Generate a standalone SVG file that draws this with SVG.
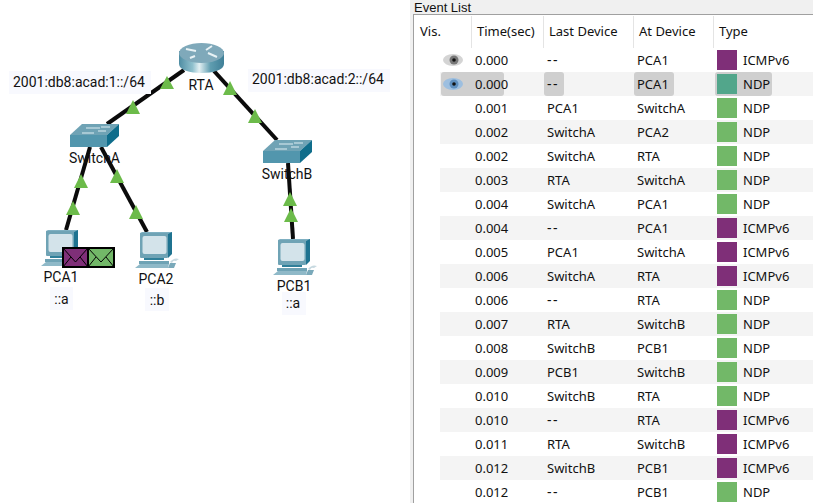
<svg xmlns="http://www.w3.org/2000/svg" xmlns:xlink="http://www.w3.org/1999/xlink" width="813" height="503" viewBox="0 0 813 503">
<style>
text{font-family:"Noto Sans","Liberation Sans",sans-serif;font-size:13px;fill:#111}
.lab{font-family:Roboto,"Liberation Sans",sans-serif;fill:#111;font-size:14px}
.ttl{font-family:"Liberation Sans",sans-serif}
.lbg{fill:#f8f9fe}
.wire{stroke:#0b0b0b;stroke-width:4;fill:none}
.tri{fill:#6cbb4a}
.st{fill:#f4f4f4}
.sel{fill:#cfcfcf}
.hd{stroke:#e4e4e4;stroke-width:1}
.env{stroke:#000;stroke-width:2}
.fl{stroke:#000;stroke-width:1;fill:none}
.dash{letter-spacing:1.500px;font-size:14px}
.p{fill:#7f2f78}.n{fill:#72b868}.s{fill:#52a68b}
</style>
<defs>
<linearGradient id="rg" x1="0" x2="1" y1="0" y2="0"><stop offset="0" stop-color="#4f8da3"/><stop offset=".3" stop-color="#8fc0cd"/><stop offset=".45" stop-color="#e3f0f3"/><stop offset=".7" stop-color="#5f9db0"/><stop offset="1" stop-color="#3f7f97"/></linearGradient>
<g id="pc">
<path d="M33 0H37V22L33 26Z" fill="#1f7390"/>
<path d="M5 1L7 0H37L33 2H5Z" fill="#7fb0c2"/>
<rect x="5" y="1" width="28" height="25" rx="1" fill="#6fa3b5"/>
<rect x="7.500" y="4" width="24" height="18" rx="2" fill="#d3e3ea"/>
<path d="M9 26H29V28H9Z" fill="#2f7f99"/>
<path d="M4 29H34V32H4Z" fill="#6fa3b5"/>
<path d="M0 36L5 32H34L33 36Z" fill="#8fb9c8"/>
<path d="M35 30Q39 25 44 27L41 29Q38 28 37 31Z" fill="#c7d9e0"/>
<path d="M35 31H41L39 36H33Z" fill="#7aa9ba"/>
</g>
<g id="sw">
<path d="M0 11L12 0H49L37 11Z" fill="#6fa3b5"/>
<path d="M37 11L49 0V12L37 23Z" fill="#0f6d8b"/>
<rect x="0" y="11" width="37" height="12" fill="#5296ad"/>
<path d="M16 4H30M31 3H40M12 9H24M28 7H36" stroke="#dfeef3" stroke-width="1"/>
</g>
</defs>
<rect width="813" height="503" fill="#fff"/>
<g id="connectors">
<path class="wire" d="M184 70L107 124"/>
<path class="wire" d="M214 71L277 140"/>
<path class="wire" d="M90 147L66 230"/>
<path class="wire" d="M101 147L147 232"/>
<path class="wire" d="M288 163L293 239"/>
<path class="tri" d="M167 76L174 89H160Z"/>
<path class="tri" d="M133 100L140 114H126Z"/>
<path class="tri" d="M230 81L237 95H223Z"/>
<path class="tri" d="M255 109L262 123H248Z"/>
<path class="tri" d="M81 174L88 188H74Z"/>
<path class="tri" d="M73 201L80 215H66Z"/>
<path class="tri" d="M117 169L124 183H110Z"/>
<path class="tri" d="M136 205L143 219H129Z"/>
<path class="tri" d="M290 192L297 206H283Z"/>
<path class="tri" d="M291 208L298 222H284Z"/>
</g>
<g id="subnet1"><rect class="lbg" x="9" y="71" width="142" height="23"/><text class="lab" x="13" y="87">2001:db8:acad:1::/64</text></g>
<g id="subnet2"><rect class="lbg" x="248" y="69" width="142" height="23"/><text class="lab" x="252" y="84">2001:db8:acad:2::/64</text></g>
<g id="RTA">
<path d="M179 51V64C179 70 190 73 201.500 73C213 73 224 70 224 64V51Z" fill="url(#rg)"/>
<ellipse cx="201.500" cy="53" rx="22.500" ry="10" fill="#7fa9ba"/>
<path d="M186 49L196 51M195 56L190 58M206 50L212 46M208 53L217 57" stroke="#e8f2f5" stroke-width="2"/>
<text class="lab" x="201" y="90" text-anchor="middle">RTA</text>
</g>
<g id="SwitchA"><use xlink:href="#sw" href="#sw" x="70" y="124"/><text class="lab" x="94.500" y="163" text-anchor="middle">SwitchA</text></g>
<g id="SwitchB"><use xlink:href="#sw" href="#sw" x="263" y="140"/><text class="lab" x="287" y="179" text-anchor="middle">SwitchB</text></g>
<g id="PCA1"><use xlink:href="#pc" href="#pc" x="41" y="230"/><text class="lab" x="61" y="282" text-anchor="middle">PCA1</text><rect class="lbg" x="50" y="287" width="23" height="23"/><text class="lab" x="61.500" y="304" text-anchor="middle">::a</text></g>
<g id="PCA2"><use xlink:href="#pc" href="#pc" x="135" y="232"/><text class="lab" x="156" y="284" text-anchor="middle">PCA2</text><rect class="lbg" x="145" y="288" width="24" height="23"/><text class="lab" x="157" y="305" text-anchor="middle">::b</text></g>
<g id="PCB1"><use xlink:href="#pc" href="#pc" x="273" y="239"/><text class="lab" x="294" y="291" text-anchor="middle">PCB1</text><rect class="lbg" x="282" y="292" width="24" height="23"/><text class="lab" x="293" y="308" text-anchor="middle">::a</text></g>
<g id="envelopes">
<rect class="env p" x="63" y="248" width="25" height="19"/><path class="fl" d="M63 248L75.500 262L88 248M63 267L71 257M88 267L80 257"/>
<rect class="env n" x="88" y="248" width="26" height="19"/><path class="fl" d="M88 248L101 262L114 248M88 267L96 257M114 267L106 257"/>
</g>
<g id="panel">
<rect x="410" y="0" width="403" height="503" fill="#f0f0f0"/>
<rect x="413.500" y="14.500" width="410" height="500" fill="#fff" stroke="#a0a0a0"/>
<text class="ttl" x="414" y="12">Event List</text>
<path class="hd" d="M471.500 16V48M543.500 16V48M633.500 16V48M713.500 16V48"/>
<text x="420" y="36">Vis.</text><text x="477" y="36">Time(sec)</text><text x="549" y="36">Last Device</text><text x="639" y="36">At Device</text><text x="719" y="36">Type</text>
<rect class="st" x="440" y="72" width="373" height="24"/>
<rect class="st" x="440" y="120" width="373" height="24"/>
<rect class="st" x="440" y="168" width="373" height="24"/>
<rect class="st" x="440" y="216" width="373" height="24"/>
<rect class="st" x="440" y="264" width="373" height="24"/>
<rect class="st" x="440" y="312" width="373" height="24"/>
<rect class="st" x="440" y="360" width="373" height="24"/>
<rect class="st" x="440" y="408" width="373" height="24"/>
<rect class="st" x="440" y="456" width="373" height="24"/>
<rect class="sel" x="441" y="72" width="63" height="24" rx="3"/><rect class="sel" x="544" y="72" width="20" height="24" rx="3"/><rect class="sel" x="634" y="72" width="40" height="24" rx="3"/><rect class="sel" x="715" y="72" width="57" height="24" rx="3"/>
<g id="eye1"><ellipse cx="453" cy="60" rx="10" ry="6" fill="#d4d4d4"/><circle cx="454" cy="60" r="4.500" fill="#777"/><circle cx="454" cy="60" r="1.800" fill="#111"/></g>
<g id="eye2"><ellipse cx="453" cy="84" rx="10" ry="6" fill="#9dbfe0"/><circle cx="454" cy="84" r="4.500" fill="#5f8fbe"/><circle cx="454" cy="84" r="1.800" fill="#111"/></g>
<rect class="p" x="717" y="50" width="20" height="20"/><rect class="s" x="717" y="74" width="20" height="20"/><rect class="n" x="717" y="98" width="20" height="20"/><rect class="n" x="717" y="122" width="20" height="20"/><rect class="n" x="717" y="146" width="20" height="20"/><rect class="n" x="717" y="170" width="20" height="20"/><rect class="n" x="717" y="194" width="20" height="20"/><rect class="p" x="717" y="218" width="20" height="20"/><rect class="p" x="717" y="242" width="20" height="20"/><rect class="p" x="717" y="266" width="20" height="20"/><rect class="n" x="717" y="290" width="20" height="20"/><rect class="n" x="717" y="314" width="20" height="20"/><rect class="n" x="717" y="338" width="20" height="20"/><rect class="n" x="717" y="362" width="20" height="20"/><rect class="n" x="717" y="386" width="20" height="20"/><rect class="p" x="717" y="410" width="20" height="20"/><rect class="p" x="717" y="434" width="20" height="20"/><rect class="p" x="717" y="458" width="20" height="20"/><rect class="n" x="717" y="482" width="20" height="20"/>
<g id="rows">
<text x="475" y="65">0.000</text><text class="dash" x="547" y="65">--</text><text x="637" y="65">PCA1</text><text x="743" y="65">ICMPv6</text>
<text x="475" y="89">0.000</text><text class="dash" x="547" y="89">--</text><text x="637" y="89">PCA1</text><text x="743" y="89">NDP</text>
<text x="475" y="113">0.001</text><text x="547" y="113">PCA1</text><text x="637" y="113">SwitchA</text><text x="743" y="113">NDP</text>
<text x="475" y="137">0.002</text><text x="547" y="137">SwitchA</text><text x="637" y="137">PCA2</text><text x="743" y="137">NDP</text>
<text x="475" y="161">0.002</text><text x="547" y="161">SwitchA</text><text x="637" y="161">RTA</text><text x="743" y="161">NDP</text>
<text x="475" y="185">0.003</text><text x="547" y="185">RTA</text><text x="637" y="185">SwitchA</text><text x="743" y="185">NDP</text>
<text x="475" y="209">0.004</text><text x="547" y="209">SwitchA</text><text x="637" y="209">PCA1</text><text x="743" y="209">NDP</text>
<text x="475" y="233">0.004</text><text class="dash" x="547" y="233">--</text><text x="637" y="233">PCA1</text><text x="743" y="233">ICMPv6</text>
<text x="475" y="257">0.005</text><text x="547" y="257">PCA1</text><text x="637" y="257">SwitchA</text><text x="743" y="257">ICMPv6</text>
<text x="475" y="281">0.006</text><text x="547" y="281">SwitchA</text><text x="637" y="281">RTA</text><text x="743" y="281">ICMPv6</text>
<text x="475" y="305">0.006</text><text class="dash" x="547" y="305">--</text><text x="637" y="305">RTA</text><text x="743" y="305">NDP</text>
<text x="475" y="329">0.007</text><text x="547" y="329">RTA</text><text x="637" y="329">SwitchB</text><text x="743" y="329">NDP</text>
<text x="475" y="353">0.008</text><text x="547" y="353">SwitchB</text><text x="637" y="353">PCB1</text><text x="743" y="353">NDP</text>
<text x="475" y="377">0.009</text><text x="547" y="377">PCB1</text><text x="637" y="377">SwitchB</text><text x="743" y="377">NDP</text>
<text x="475" y="401">0.010</text><text x="547" y="401">SwitchB</text><text x="637" y="401">RTA</text><text x="743" y="401">NDP</text>
<text x="475" y="425">0.010</text><text class="dash" x="547" y="425">--</text><text x="637" y="425">RTA</text><text x="743" y="425">ICMPv6</text>
<text x="475" y="449">0.011</text><text x="547" y="449">RTA</text><text x="637" y="449">SwitchB</text><text x="743" y="449">ICMPv6</text>
<text x="475" y="473">0.012</text><text x="547" y="473">SwitchB</text><text x="637" y="473">PCB1</text><text x="743" y="473">ICMPv6</text>
<text x="475" y="497">0.012</text><text class="dash" x="547" y="497">--</text><text x="637" y="497">PCB1</text><text x="743" y="497">NDP</text>
</g>
</g>
</svg>
